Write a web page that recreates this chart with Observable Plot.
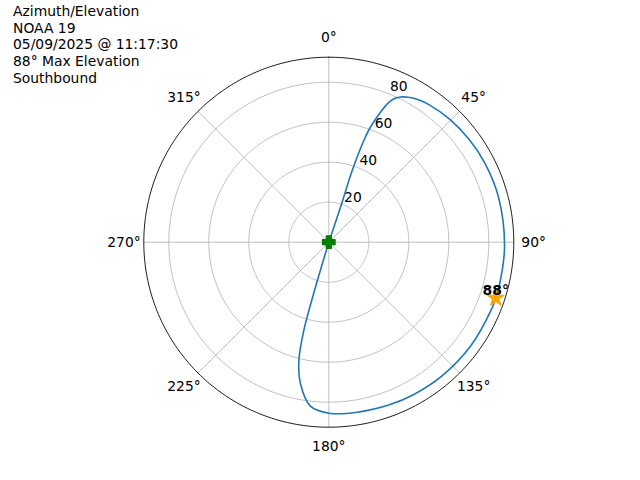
<!DOCTYPE html>
<html>
<head>
<meta charset="utf-8">
<script src="https://cdn.jsdelivr.net/npm/d3@7"></script>
<script src="https://cdn.jsdelivr.net/npm/@observablehq/plot@0.6"></script>
<style>
  body { margin: 0; background: #fff; }
  #wrap { position: relative; width: 640px; height: 480px; font-family: "DejaVu Sans", sans-serif; }
  #title { position: absolute; left: 13px; top: 3px; font-size: 13.89px; line-height: 16.67px; color: #000; white-space: pre; }
  #chart svg { display: block; }
</style>
</head>
<body>
<div id="wrap"><div id="chart"></div><div id="title"></div></div>
<script>
// ---- data ----
const titleLines = ["Azimuth/Elevation", "NOAA 19", "05/09/2025 @ 11:17:30", "88° Max Elevation", "Southbound"];

// satellite track: azimuth (deg, clockwise from north) and elevation (deg, plotted as radius)
const trackAz = [18.0, 18.5, 18.1, 19.0, 19.8, 21.6, 22.9, 24.3, 26.3, 28.8, 31.7, 35.7, 44.6, 53.9, 63.2, 75.3, 91.6, 104.8, 108.5, 112.2, 126.2, 140.0, 151.0, 159.3, 170.5, 180.0, 186.4, 191.3, 194.2, 195.8, 196.5, 196.0];
const trackEl = [0, 18.5, 37.7, 53.8, 60.7, 69.5, 75.1, 78.6, 81.0, 82.7, 84.0, 85.0, 86.2, 87.0, 87.5, 87.8, 87.9, 88.0, 88.0, 88.0, 87.9, 87.6, 87.2, 86.8, 86.2, 85.5, 82.5, 72.2, 61.0, 45.9, 23.5, 0];

const peakAz = 108.5;
const peakEl = 88;
const peakLabel = "88°";

const ringValues = [20, 40, 60, 80];
const ringLabels = ["20", "40", "60", "80"];
const spokeAngles = [0, 45, 90, 135, 180, 225, 270, 315];
const spokeLabels = ["0°", "45°", "90°", "135°", "180°", "225°", "270°", "315°"];
const rMax = 92.5;
const rLabelAngle = 22.5;

// ---- helpers ----
const rad = Math.PI / 180;
const px = (a, r) => r * Math.sin(a * rad);
const py = (a, r) => r * Math.cos(a * rad);

document.getElementById("title").textContent = titleLines.join("\n");

const track = trackAz.map((a, i) => ({az: a, el: trackEl[i]}));

const ringPts = [];
for (const v of ringValues.concat([rMax])) {
  for (let a = 0; a <= 360; a += 1) ringPts.push({ring: v, az: a});
}

const plusFilled = {
  draw(ctx, size) {
    const s = Math.sqrt(size / Math.PI);
    const w = s * 0.4;
    ctx.moveTo(-w, -s); ctx.lineTo(w, -s); ctx.lineTo(w, -w); ctx.lineTo(s, -w);
    ctx.lineTo(s, w); ctx.lineTo(w, w); ctx.lineTo(w, s); ctx.lineTo(-w, s);
    ctx.lineTo(-w, w); ctx.lineTo(-s, w); ctx.lineTo(-s, -w); ctx.lineTo(-w, -w);
    ctx.closePath();
  }
};

const font = 13.89;

const chart = Plot.plot({
  width: 640,
  height: 480,
  marginLeft: 143.3,
  marginRight: 126.7,
  marginTop: 56.7,
  marginBottom: 53.3,
  x: {domain: [-rMax, rMax], axis: null},
  y: {domain: [-rMax, rMax], axis: null},
  style: {fontFamily: "DejaVu Sans", fontSize: font + "px", background: "#fff", color: "#000", overflow: "visible"},
  marks: [
    Plot.line(ringPts.filter(d => d.ring !== rMax), {
      x: d => px(d.az, d.ring), y: d => py(d.az, d.ring), z: "ring",
      stroke: "#b0b0b0", strokeWidth: 0.8
    }),
    Plot.link(spokeAngles, {
      x1: 0, y1: 0, x2: a => px(a, rMax), y2: a => py(a, rMax),
      stroke: "#b0b0b0", strokeWidth: 0.8
    }),
    Plot.line(ringPts.filter(d => d.ring === rMax), {
      x: d => px(d.az, d.ring), y: d => py(d.az, d.ring),
      stroke: "#000", strokeWidth: 0.9
    }),
    Plot.text(spokeAngles, {
      x: a => px(a, 102.4), y: a => py(a, 102.4),
      text: (a, i) => spokeLabels[i], textAnchor: "middle", lineAnchor: "middle",
      fill: "#000", fontSize: font
    }),
    Plot.text(ringValues, {
      x: v => px(rLabelAngle, v), y: v => py(rLabelAngle, v),
      text: (v, i) => ringLabels[i], textAnchor: "start", lineAnchor: "bottom", dy: -3,
      fill: "#000", fontSize: font
    }),
    Plot.line(track, {
      x: d => px(d.az, d.el), y: d => py(d.az, d.el),
      stroke: "#1f77b4", strokeWidth: 1.6, curve: "catmull-rom"
    }),
    Plot.dot([track[0]], {
      x: d => px(d.az, d.el), y: d => py(d.az, d.el),
      symbol: plusFilled, r: 6.3, fill: "green", stroke: "green", strokeWidth: 1.2, strokeLinejoin: "round"
    }),
    Plot.dot([{az: peakAz, el: peakEl}], {
      x: d => px(d.az, d.el), y: d => py(d.az, d.el),
      symbol: "star", r: 5.4, fill: "orange", stroke: "orange", strokeWidth: 1
    }),
    Plot.text([{az: peakAz, el: peakEl}], {
      x: d => px(d.az, d.el), y: d => py(d.az, d.el),
      text: () => peakLabel, textAnchor: "middle", lineAnchor: "bottom", dy: -3,
      fontWeight: "bold", fill: "#000", fontSize: font
    })
  ]
});

document.getElementById("chart").appendChild(chart);
</script>
</body>
</html>
